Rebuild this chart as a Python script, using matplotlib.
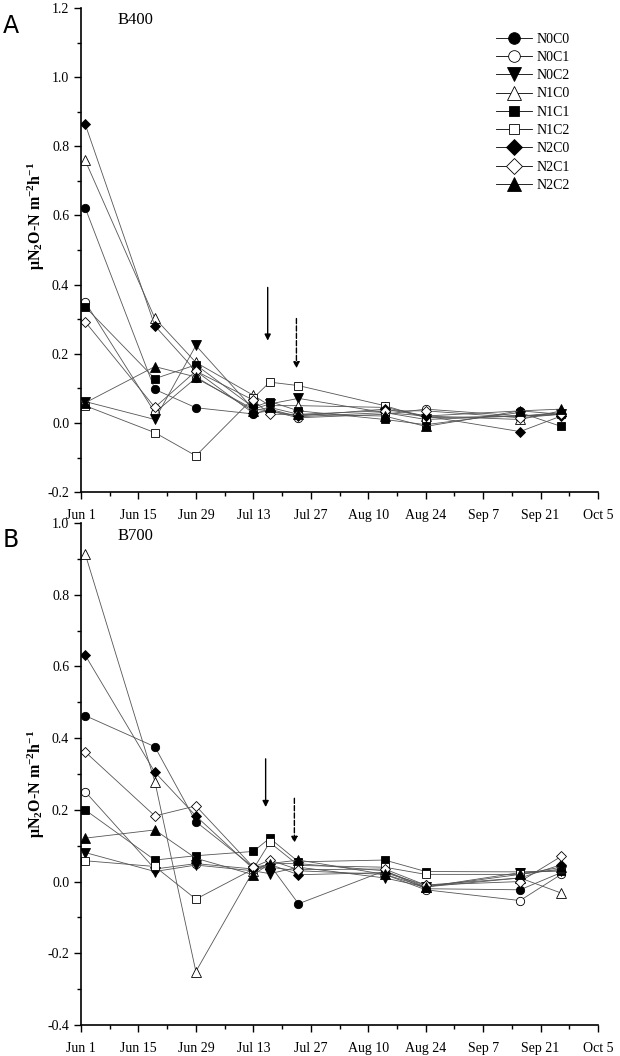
import matplotlib
matplotlib.use('Agg')
import matplotlib.pyplot as plt

plt.rcParams['font.family'] = ['Liberation Serif', 'DejaVu Serif']
plt.rcParams['mathtext.fontset'] = 'custom'
plt.rcParams['mathtext.rm'] = 'Liberation Serif'
plt.rcParams['mathtext.bf'] = 'Liberation Serif:bold'
plt.rcParams['mathtext.default'] = 'bf'

# days after Jun 1
days = [1, 18, 28, 42, 46, 53, 74, 84, 107, 117]
tick_days = [0, 14, 28, 42, 56, 70, 84, 98, 112, 126]
tick_labels = ["Jun 1", "Jun 15", "Jun 29", "Jul 13", "Jul 27", "Aug 10", "Aug 24", "Sep 7", "Sep 21", "Oct 5"]
series = ["N0C0", "N0C1", "N0C2", "N1C0", "N1C1", "N1C2", "N2C0", "N2C1", "N2C2"]

# B400
b400_N0C0 = [0.623, 0.097, 0.044, 0.026, 0.040, 0.018, 0.030, 0.020, 0.035, 0.025]
b400_N0C1 = [0.350, 0.030, 0.130, 0.040, 0.035, 0.015, 0.025, 0.040, 0.020, 0.030]
b400_N0C2 = [0.062, 0.010, 0.224, 0.040, 0.055, 0.071, 0.030, 0.010, 0.020, 0.025]
b400_N1C0 = [0.760, 0.303, 0.175, 0.080, 0.050, 0.050, 0.045, 0.020, 0.010, 0.035]
b400_N1C1 = [0.336, 0.128, 0.168, 0.045, 0.062, 0.035, 0.010, -0.005, 0.030, -0.010]
b400_N1C2 = [0.050, -0.028, -0.095, 0.072, 0.118, 0.108, 0.050, 0.015, 0.020, 0.025]
b400_N2C0 = [0.865, 0.281, 0.150, 0.028, 0.035, 0.020, 0.040, 0.020, -0.025, 0.020]
b400_N2C1 = [0.293, 0.045, 0.150, 0.066, 0.025, 0.025, 0.035, 0.035, 0.015, 0.025]
b400_N2C2 = [0.058, 0.163, 0.133, 0.035, 0.045, 0.025, 0.020, -0.010, 0.035, 0.040]

# B700
b700_N0C0 = [0.463, 0.376, 0.167, 0.040, 0.047, -0.062, 0.030, -0.020, -0.023, 0.025]
b700_N0C1 = [0.251, 0.035, 0.050, 0.035, 0.040, 0.030, 0.020, -0.023, -0.053, 0.020]
b700_N0C2 = [0.081, 0.028, 0.046, 0.030, 0.022, 0.040, 0.010, -0.015, 0.025, 0.030]
b700_N1C0 = [0.915, 0.279, -0.251, 0.030, 0.050, 0.050, 0.030, -0.015, 0.010, -0.032]
b700_N1C1 = [0.200, 0.060, 0.072, 0.084, 0.121, 0.055, 0.060, 0.028, 0.027, 0.030]
b700_N1C2 = [0.058, 0.042, -0.049, 0.035, 0.109, 0.045, 0.040, 0.020, 0.020, 0.035]
b700_N2C0 = [0.632, 0.305, 0.183, 0.035, 0.048, 0.019, 0.025, -0.010, 0.010, 0.047]
b700_N2C1 = [0.362, 0.183, 0.211, 0.040, 0.060, 0.033, 0.035, -0.010, 0.000, 0.070]
b700_N2C2 = [0.121, 0.144, 0.065, 0.019, 0.050, 0.060, 0.020, -0.015, 0.020, 0.040]

b400 = [b400_N0C0, b400_N0C1, b400_N0C2, b400_N1C0, b400_N1C1, b400_N1C2, b400_N2C0, b400_N2C1, b400_N2C2]
b700 = [b700_N0C0, b700_N0C1, b700_N0C2, b700_N1C0, b700_N1C1, b700_N1C2, b700_N2C0, b700_N2C1, b700_N2C2]

markers = ['o', 'o', 'v', '^', 's', 's', 'D', 'D', '^']
faces = ['black', 'white', 'black', 'white', 'black', 'white', 'black', 'white', 'black']
sizes = [6, 6, 7, 7, 5.5, 5.5, 5.5, 5.5, 7]

fig = plt.figure(figsize=(6.2, 10.56), dpi=100)
ax1 = fig.add_axes([0.1306, 0.534, 0.834, 0.4584])
ax2 = fig.add_axes([0.1306, 0.0294, 0.834, 0.4753])

def draw(ax, data, ylim, label, arrows, ylab_y):
    for i in range(len(series)):
        ax.plot(days, data[i], color='#555555', lw=0.6, marker=markers[i],
                ms=sizes[i], mfc=faces[i], mec='black', mew=0.6, label=series[i])
    ax.set_xlim(0, 126)
    ax.set_ylim(ylim)
    ax.set_xticks(tick_days)
    ax.set_xticklabels(tick_labels, fontsize=10)
    ax.set_xticks(range(7, 126, 14), minor=True)
    ax.set_yticks([v / 10 for v in range(int(round(ylim[0] * 10)), int(round(ylim[1] * 10)) + 1, 2)])
    ax.set_yticks([v / 10 for v in range(int(round(ylim[0] * 10)) + 1, int(round(ylim[1] * 10)), 2)], minor=True)
    ax.yaxis.set_major_formatter(matplotlib.ticker.FormatStrFormatter('%.1f'))
    ax.tick_params(labelsize=10, direction='out', length=5, width=1)
    ax.tick_params(axis='x', pad=7)
    ax.tick_params(which='minor', direction='out', length=3, width=1)
    ax.spines['top'].set_visible(False)
    ax.spines['right'].set_visible(False)
    ax.spines['left'].set_linewidth(1.2)
    ax.spines['bottom'].set_linewidth(1.2)
    ax.text(0.07, 0.975, label, transform=ax.transAxes, fontsize=12, va='center')
    ax.set_ylabel('μN$_2$O-N m$^{-2}$h$^{-1}$', fontsize=11.5, fontweight='bold')
    ax.yaxis.set_label_coords(-0.065, ylab_y)
    (x1, y1a, y1b), (x2, y2a, y2b) = arrows
    ax.annotate('', xy=(x1, y1b), xytext=(x1, y1a),
                arrowprops=dict(arrowstyle='-|>', color='black', lw=1, mutation_scale=9))
    ax.annotate('', xy=(x2, y2b), xytext=(x2, y2a),
                arrowprops=dict(arrowstyle='-|>', color='black', lw=1, ls='--', mutation_scale=9))

draw(ax1, b400, (-0.2, 1.2), 'B400', [(45.5, 0.40, 0.23), (52.5, 0.31, 0.15)], 0.57)
draw(ax2, b700, (-0.4, 1.0), 'B700', [(45, 0.35, 0.20), (52, 0.24, 0.10)], 0.48)

leg = ax1.legend(loc='upper right', bbox_to_anchor=(0.97, 0.975), frameon=False, fontsize=10,
                 markerscale=1.4, handlelength=2.6, labelspacing=0.38, handletextpad=0.3)
for line in leg.get_lines():
    line.set_color('black')

fig.text(0.005, 0.975, 'A', fontsize=17, family='DejaVu Sans', va='center')
fig.text(0.005, 0.489, 'B', fontsize=17, family='DejaVu Sans', va='center')

fig.savefig('out.png', dpi=100)
